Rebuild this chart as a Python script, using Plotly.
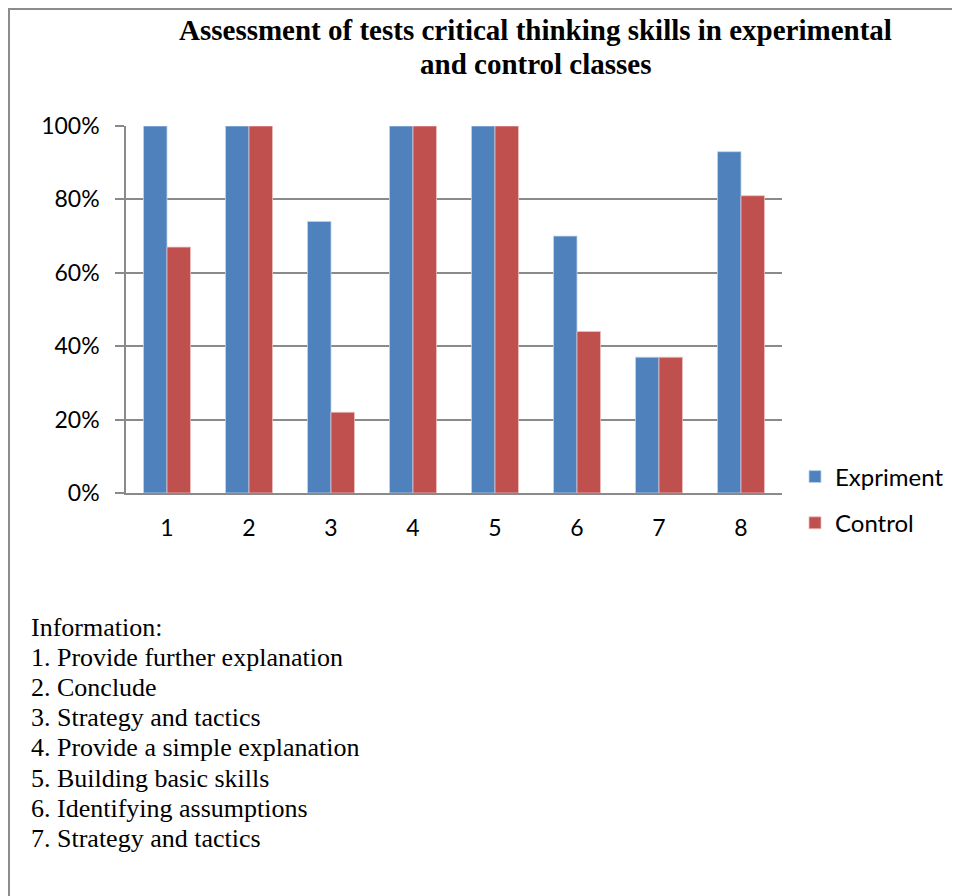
import plotly.graph_objects as go

categories = ["1", "2", "3", "4", "5", "6", "7", "8"]
expriment = [1.00, 1.00, 0.74, 1.00, 1.00, 0.70, 0.37, 0.93]
control = [0.67, 1.00, 0.22, 1.00, 1.00, 0.44, 0.37, 0.81]
y_ticks = [0, 0.2, 0.4, 0.6, 0.8, 1.0]
y_tick_labels = ["0%", "20%", "40%", "60%", "80%", "100%"]
title_lines = ["Assessment of tests critical thinking skills in experimental", "and control classes"]
info_lines = [
    "Information:",
    "1. Provide further explanation",
    "2. Conclude",
    "3. Strategy and tactics",
    "4. Provide a simple explanation",
    "5. Building basic skills",
    "6. Identifying assumptions",
    "7. Strategy and tactics",
]

OFF = 8  # browser body margin
W, H = 960 - OFF, 896 - OFF
# plot area in page pixels
L, R, T, B = 126, 782, 126, 493


def px_x(x):
    return (x - L) / (R - L)


def px_y(y):
    return (B - y) / (B - T)


SANS = "Lato, Calibri, Carlito, sans-serif"
SERIF = "Liberation Serif, Times New Roman, serif"
GRID = "#8a8a8a"

fig = go.Figure()
fig.add_trace(go.Bar(
    x=categories, y=expriment, name="Expriment", legendgroup="e",
    marker=dict(color="#4F81BD", line=dict(color="rgba(190,210,235,0.8)", width=1)),
))
fig.add_trace(go.Bar(
    x=categories, y=control, name="Control", legendgroup="c",
    marker=dict(color="#C0504D", line=dict(color="rgba(235,190,190,0.8)", width=1)),
))

fig.update_layout(
    width=W, height=H,
    margin=dict(l=L - OFF, r=W - (R - OFF), t=T - OFF, b=H - (B - OFF), autoexpand=False),
    paper_bgcolor="white", plot_bgcolor="white",
    barmode="group", bargap=0.427, bargroupgap=0,
    font=dict(family=SANS, size=23, color="black"),
    legend=dict(
        x=px_x(795), xanchor="left", y=px_y(500), yanchor="middle",
        font=dict(family=SANS, size=24, color="black"),
        tracegroupgap=12, itemwidth=30, bgcolor="rgba(0,0,0,0)",
    ),
    showlegend=True,
)

fig.update_xaxes(
    type="category", showline=True, linecolor=GRID, linewidth=1.5,
    ticks="", showgrid=False, ticklabelstandoff=14,
    tickfont=dict(family=SANS, size=23, color="black"),
)
fig.update_yaxes(
    range=[0, 1], tickvals=y_ticks, ticktext=y_tick_labels,
    showgrid=True, gridcolor=GRID, gridwidth=1.5,
    showline=True, linecolor=GRID, linewidth=1.5,
    ticks="outside", ticklen=9, tickcolor=GRID, tickwidth=1.5,
    ticklabelstandoff=11, zeroline=False,
    tickfont=dict(family=SANS, size=23, color="black"),
)

# outer frame (left and top edges visible)
x0 = px_x(9)
y_top = px_y(9)
fig.add_shape(
    type="path", xref="paper", yref="paper",
    path=f"M {x0},{px_y(910)} L {x0},{y_top} L {px_x(975)},{y_top}",
    line=dict(color="#8c8c8c", width=2),
)

# title
title_y = [30, 64]
for line, yy in zip(title_lines, title_y):
    fig.add_annotation(
        text="<b>" + line + "</b>", xref="paper", yref="paper",
        x=px_x(535), y=px_y(yy), xanchor="center", yanchor="middle",
        showarrow=False, font=dict(family=SERIF, size=29, color="black"),
    )

# information block
for i, line in enumerate(info_lines):
    fig.add_annotation(
        text=line, xref="paper", yref="paper",
        x=px_x(29), y=px_y(627 + i * 30.2),
        xanchor="left", yanchor="middle", align="left", showarrow=False,
        font=dict(family=SERIF, size=26, color="black"),
    )

fig.write_html("out.html")
